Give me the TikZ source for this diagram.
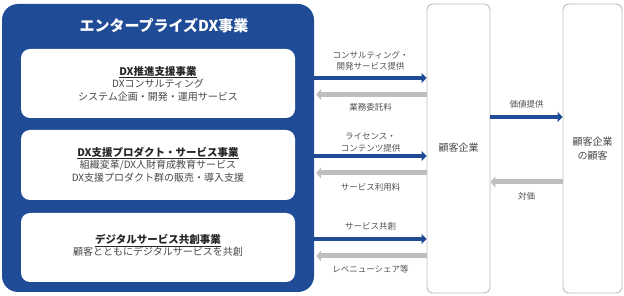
\documentclass[tikz,border=0pt]{standalone}
\usepackage{fontspec}
\setmainfont{Noto Sans CJK JP}
\usetikzlibrary{arrows.meta}
\definecolor{entblue}{HTML}{1F4B97}
\definecolor{arrgray}{HTML}{BEBEBE}
\definecolor{boxgray}{HTML}{BDBDBD}
\definecolor{txtgray}{HTML}{474747}
\definecolor{lblgray}{HTML}{505050}
\tikzset{
  panel/.style={rectangle, inner sep=0pt, rounded corners=9pt, fill=white},
  custbox/.style={rectangle, inner sep=0pt, rounded corners=6pt, draw=boxgray, line width=0.9pt, fill=white},
  bluearr/.style={draw=entblue, line width=3.6pt, -{Triangle[length=5pt,width=10pt]}},
  grayarr/.style={draw=arrgray, line width=5pt, -{Triangle[length=5pt,width=11pt]}},
  lbl/.style={font=\fontsize{8.5}{11.5}\selectfont, text=lblgray, align=center, inner sep=0pt},
  body/.style={font=\fontsize{10}{12.5}\selectfont, text=txtgray, align=center, inner sep=0pt},
  ptitle/.style={font=\fontsize{10.5}{12.5}\selectfont\bfseries},
}
\begin{document}
\begin{tikzpicture}[x=1pt,y=-1pt]
\useasboundingbox (0,0) rectangle (624,296);
% enterprise box
\node[rectangle, inner sep=0pt, rounded corners=16pt, fill=entblue, minimum width=312pt, minimum height=288pt] (ent) at (158,148) {};
\node[font=\fontsize{15}{18}\selectfont\bfseries, text=white, inner sep=0pt] (title) at (164,26) {エンタープライズDX事業};
% inner panels
\node[panel, minimum width=274pt, minimum height=69pt] (p1) at (158,83.5) {};
\node[panel, minimum width=274pt, minimum height=70pt] (p2) at (158,165) {};
\node[panel, minimum width=274pt, minimum height=69pt] (p3) at (158,247.5) {};
\node[body] (t1) at (158,83.5) {{\bfseries\fontsize{10.5}{12.5}\selectfont\color{black!85}\underline{DX推進支援事業}}\\DXコンサルティング\\システム企画・開発・運用サービス};
\node[body] (t2) at (158,164.5) {{\bfseries\fontsize{10.5}{12.5}\selectfont\color{black!85}\underline{DX支援プロダクト・サービス事業}}\\組織変革/DX人財育成教育サービス\\DX支援プロダクト群の販売・導入支援};
\node[body] (t3) at (158,245.5) {{\bfseries\fontsize{10.5}{12.5}\selectfont\color{black!85}\underline{デジタルサービス共創事業}}\\顧客とともにデジタルサービスを共創};
% customer boxes
\node[custbox, minimum width=63pt, minimum height=289pt] (cust) at (458.5,148.5) {};
\node[body] (custt) at (458.5,148) {顧客企業};
\node[custbox, minimum width=59pt, minimum height=289pt] (ccust) at (592.5,148.5) {};
\node[body, font=\fontsize{10}{14}\selectfont] (ccustt) at (592.5,149) {顧客企業\\の顧客};
% arrows left
\draw[bluearr] (ent.east |- 0,78) -- (cust.west |- 0,78);
\draw[grayarr] (cust.west |- 0,94.5) -- ([xshift=2pt]ent.east |- 0,94.5);
\node[lbl] (l1) at (370.5,61) {コンサルティング・\\開発サービス提供};
\node[lbl] (l2) at (370.5,107) {業務委託料};
\draw[bluearr] (ent.east |- 0,156) -- (cust.west |- 0,156);
\draw[grayarr] (cust.west |- 0,173) -- ([xshift=2pt]ent.east |- 0,173);
\node[lbl] (l3) at (370.5,142.5) {ライセンス・\\コンテンツ提供};
\node[lbl] (l4) at (370.5,187) {サービス利用料};
\draw[bluearr] (ent.east |- 0,239) -- (cust.west |- 0,239);
\draw[grayarr] (cust.west |- 0,256) -- ([xshift=2pt]ent.east |- 0,256);
\node[lbl] (l5) at (370.5,226) {サービス共創};
\node[lbl] (l6) at (370.5,269) {レベニューシェア等};
% arrows right
\draw[bluearr] (cust.east |- 0,117) -- (ccust.west |- 0,117);
\node[lbl] (l7) at (526.5,104) {価値提供};
\draw[grayarr] (ccust.west |- 0,182) -- (cust.east |- 0,182);
\node[lbl] (l8) at (526.5,196) {対価};
\end{tikzpicture}
\end{document}
